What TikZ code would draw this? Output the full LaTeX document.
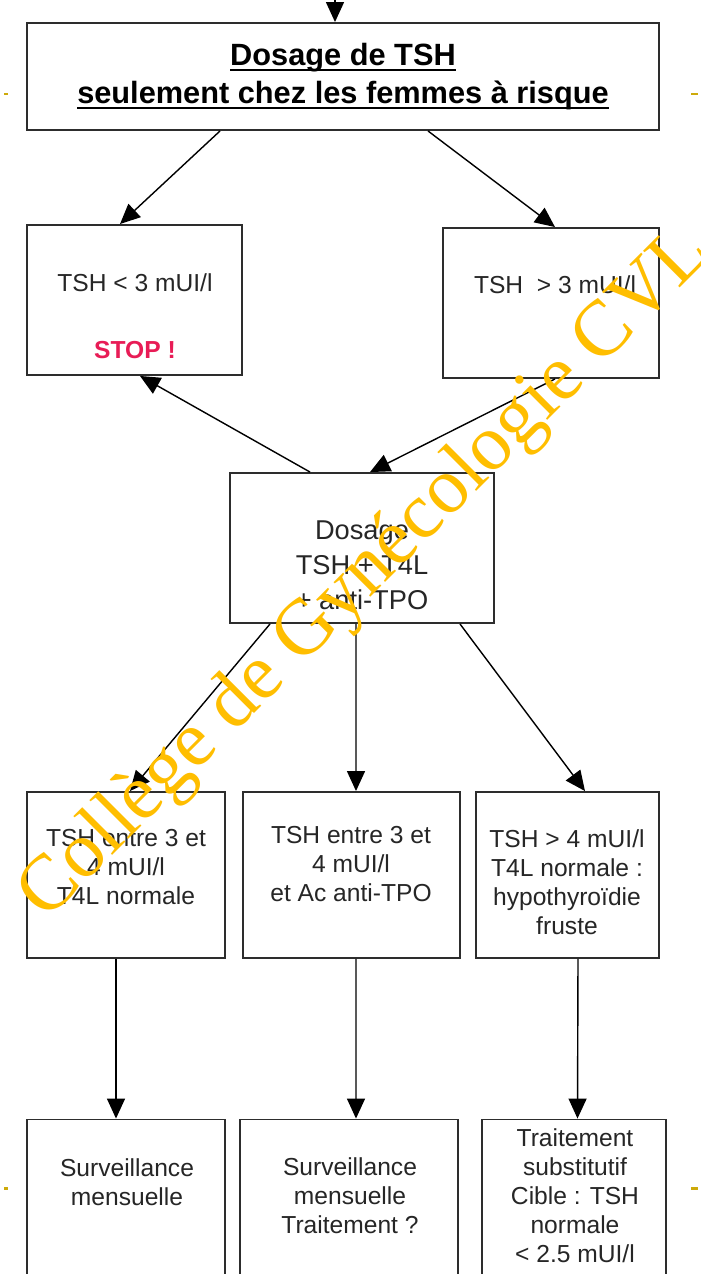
\documentclass[tikz,border=0pt]{standalone}
\usepackage{fontspec}
\setmainfont{Liberation Sans}
\newfontfamily\wmfont{Liberation Serif}
\newcommand{\ulbox}[1]{\leavevmode\setbox0\hbox{#1}\rlap{\rule[-3pt]{\wd0}{1.1pt}}\box0}
\usetikzlibrary{arrows.meta,positioning}
\definecolor{linegray}{RGB}{45,45,45}
\definecolor{stopred}{RGB}{232,28,86}
\definecolor{wmorange}{RGB}{255,190,0}
\definecolor{tickgold}{RGB}{205,170,10}
\tikzset{box/.style={draw=linegray,line width=1.1pt,rectangle,inner sep=0pt,minimum height=3cm},
  txt/.style={align=center,inner sep=0pt,text=black!85,font=\fontsize{14}{16.5}\selectfont}}

\begin{document}
\begin{tikzpicture}[x=0.02cm, y=-0.02cm, ->, >={Triangle[length=0.4cm,width=0.36cm]}, line width=0.8pt]
        \clip (0,0) rectangle (700,1274);
        \fill[white] (0,0) rectangle (700,1274);
        % boxes
        \node[box,minimum width=12.64cm,minimum height=2.14cm,align=center,font=\bfseries\fontsize{17.5}{21.5}\selectfont] (top) at (343,76.5) {\ulbox{Dosage de TSH}\\\ulbox{seulement chez les femmes à risque}};
        \node[box,minimum width=4.3cm] (low) at (134.5,300) {};
        \node[box,minimum width=4.32cm] (high) at (551,303) {};
        \node[box,minimum width=5.28cm] (dos) at (362,548) {};
        \node[box,minimum width=3.96cm,minimum height=3.32cm] (caseA) at (126,875) {};
        \node[box,minimum width=4.34cm,minimum height=3.32cm] (caseB) at (351.5,875) {};
        \node[box,minimum width=3.66cm,minimum height=3.32cm] (caseC) at (567.5,875) {};
        \node[box,minimum width=3.96cm,minimum height=3.5cm] (outA) at (126,1207) {};
        \node[box,minimum width=4.36cm,minimum height=3.5cm] (outB) at (349,1207) {};
        \node[box,minimum width=3.68cm,minimum height=3.5cm] (outC) at (574,1207) {};
        % texts
        \node[txt] (lowtxt) at (135,283) {TSH < 3 mUI/l};
        \node[txt,text=stopred,font=\bfseries\fontsize{14}{16.5}\selectfont] (stoptxt) at (135,350) {STOP !};
        \node[txt] (hightxt) at (555,285) {TSH \ > 3 mUI/l};
        \node[txt,font=\fontsize{15.5}{20}\selectfont] (dostxt) at (362,565) {Dosage\\TSH + T4L\\+ anti-TPO};
        \node[txt] (caseAtxt) at (126,867) {TSH entre 3 et\\4 mUI/l\\T4L normale};
        \node[txt] (caseBtxt) at (351,864) {TSH entre 3 et\\4 mUI/l\\et Ac anti-TPO};
        \node[txt] (caseCtxt) at (567,882) {TSH > 4 mUI/l\\T4L normale :\\hypothyroïdie\\fruste};
        \node[txt] (outAtxt) at (127,1182) {Surveillance\\mensuelle};
        \node[txt] (outBtxt) at (350,1196) {Surveillance\\mensuelle\\Traitement ?};
        \node[txt] (outCtxt) at (575,1196) {Traitement\\substitutif\\Cible : TSH\\normale\\< 2.5 mUI/l};
        % arrows
        \coordinate (entry) at (335,0);
        \path (entry) edge (entry |- top.north);
        \path ([xshift=-2.46cm]top.south) edge ([xshift=-0.29cm]low.north);
        \path ([xshift=1.70cm]top.south) edge ([xshift=0.08cm]high.north);
        \path ([xshift=-1.04cm]dos.north) edge ([xshift=0.11cm]low.south);
        \path ([xshift=0.08cm]high.south) edge ([xshift=0.16cm]dos.north);
        \path ([xshift=-1.84cm]dos.south) edge ([xshift=0.08cm]caseA.north);
        \path ([xshift=-0.12cm]dos.south) edge ([xshift=0.09cm]caseB.north);
        \path ([xshift=1.96cm]dos.south) edge ([xshift=0.35cm]caseC.north);
        \path ([xshift=-0.2cm]caseA.south) edge ([xshift=-0.2cm]outA.north);
        \path ([xshift=0.09cm]caseB.south) edge ([xshift=0.14cm]outB.north);
        \path ([xshift=0.21cm]caseC.south) edge ([xshift=0.07cm]outC.north);
        % edge marks
        \fill[tickgold] (4,93) rectangle (8,95.5);
        \fill[tickgold] (691,93) rectangle (698,95.5);
        \fill[tickgold] (4,1187) rectangle (8,1189.5);
        \fill[tickgold] (691,1187) rectangle (698,1189.5);
        % watermark
        \node[rotate=45,anchor=base west,inner sep=0pt,text=wmorange,font=\wmfont\fontsize{45}{45}\selectfont] (wm) at (46,922) {Collège de Gynécologie CVL};
\end{tikzpicture}
\end{document}
